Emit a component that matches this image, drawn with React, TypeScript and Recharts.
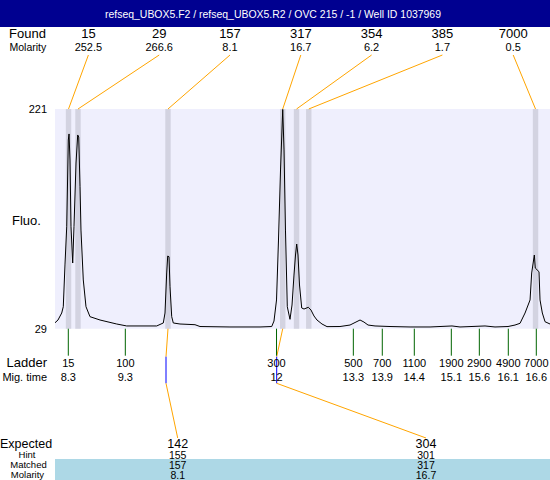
import {
  ComposedChart,
  Line,
  ReferenceArea,
  ReferenceLine,
  XAxis,
  YAxis,
} from "recharts";

// trace: migration time (min) / fluorescence
const traceTime = [
  8.057, 8.11, 8.176, 8.204, 8.234, 8.265, 8.293, 8.306, 8.323, 8.341, 8.371,
  8.394, 8.43, 8.46, 8.478, 8.501, 8.518, 8.559, 8.607, 8.678, 8.856, 9.152,
  9.329, 9.862, 9.979, 10.009, 10.039, 10.057, 10.08, 10.098, 10.128, 10.156,
  10.275, 10.541, 10.63, 11.162, 11.695, 11.903, 11.943, 11.988, 12.023,
  12.059, 12.098, 12.121, 12.147, 12.179, 12.227, 12.263, 12.298, 12.325,
  12.346, 12.369, 12.396, 12.435, 12.476, 12.552, 12.6, 12.653, 12.706, 12.795,
  12.884, 13.114, 13.292, 13.381, 13.47, 13.54, 13.612, 13.736, 14.002, 14.357,
  14.712, 15.102, 15.244, 15.688, 15.865, 16.096, 16.22, 16.309, 16.398,
  16.487, 16.516, 16.563, 16.58, 16.646, 16.664, 16.705, 16.753, 16.841,
];
const traceFluo = [
  34.2, 36.6, 42.7, 48.2, 84.7, 118.1, 193.9, 199.2, 176.4, 118.1, 86.4, 118.1,
  173.8, 198.3, 196.5, 153.1, 115.2, 71.6, 48.2, 39.5, 36.6, 33.1, 31.4, 31.4,
  34.0, 42.7, 77.7, 92.5, 91.9, 65.7, 39.5, 34.0, 33.1, 32.5, 30.9, 30.5, 30.5,
  30.9, 35.7, 54.1, 106.5, 167.7, 220.6, 185.2, 115.2, 48.2, 37.2, 49.7, 75.9,
  93.4, 103.0, 93.4, 67.2, 47.1, 46.2, 47.7, 45.3, 40.1, 36.6, 33.1, 30.8,
  30.9, 32.2, 34.4, 36.6, 34.8, 32.2, 31.4, 30.9, 30.5, 30.5, 31.4, 30.5, 31.4,
  30.5, 30.9, 32.2, 33.7, 42.7, 54.1, 77.7, 93.4, 82.0, 78.8, 54.1, 42.7, 35.1,
  33.1,
];

const foundSizes = ["15", "29", "157", "317", "354", "385", "7000"];
const foundMolarity = ["252.5", "266.6", "8.1", "16.7", "6.2", "1.7", "0.5"];
const foundTimes = [8.297, 8.465, 10.062, 12.098, 12.343, 12.56, 16.584];

const ladderSizes = ["15", "100", "300", "500", "700", "1100", "1900", "2900", "4900", "7000"];
const ladderTimes = [8.293, 9.305, 11.988, 13.351, 13.865, 14.433, 15.09, 15.587, 16.101, 16.598];
const ladderMigLabels = ["8.3", "9.3", "12", "13.3", "13.9", "14.4", "15.1", "15.6", "16.1", "16.6"];

const expectedSizes = ["142", "304"];
const hintSizes = ["155", "301"];
const matchedSizes = ["157", "317"];
const matchedMolarity = ["8.1", "16.7"];
const matchedFoundIdx = [2, 3];
const expectedTimes = [10.027, 11.991];

const W = 550;
const H = 480;
const PLOT_LEFT = 55;
const PLOT_TOP = 109;
const PLOT_BOTTOM = 328.7;
const T_MIN = 8.057;
const T_MAX = 16.841;
const F_MIN = 29;
const F_MAX = 221;
const BAND_HALF = 0.048;

const FONT = "'Liberation Sans', Arial, sans-serif";
const ORANGE = "#FFA500";

// layout pixel -> data units (for annotation anchors only)
const pxToT = (px: number) =>
  T_MIN + ((px - PLOT_LEFT) / (W - PLOT_LEFT)) * (T_MAX - T_MIN);
const pxToF = (py: number) =>
  F_MIN + ((PLOT_BOTTOM - py) / (PLOT_BOTTOM - PLOT_TOP)) * (F_MAX - F_MIN);

const FOUND_X0 = 88.4;
const FOUND_STEP = 70.8;
const EXPECTED_X = [177.7, 426];

const chartData = traceTime.map((t, i) => ({ t, fluo: traceFluo[i] }));

function LadderTick(props: any) {
  const { x, y, payload } = props;
  const i = ladderTimes.indexOf(payload.value);
  return (
    <g>
      <text x={x} y={y + 9} textAnchor="middle" fontSize={11} fontFamily={FONT} fill="#000">
        {ladderSizes[i]}
      </text>
      <text x={x} y={y + 23} textAnchor="middle" fontSize={11} fontFamily={FONT} fill="#000">
        {ladderMigLabels[i]}
      </text>
    </g>
  );
}

export default function App() {
  return (
    <div style={{ position: "absolute", left: 0, top: 0, width: W, height: H, background: "#fff" }}>
      <ComposedChart
        width={W}
        height={H}
        data={chartData}
        margin={{ top: PLOT_TOP, right: 0, left: 0, bottom: H - PLOT_BOTTOM - 40 }}
      >
        <XAxis
          dataKey="t"
          type="number"
          domain={[T_MIN, T_MAX]}
          allowDataOverflow
          ticks={ladderTimes}
          interval={0}
          height={40}
          tickSize={27}
          axisLine={false}
          stroke="#006400"
          tickLine={{ stroke: "#006400" }}
          tick={<LadderTick />}
        />
        <YAxis
          type="number"
          domain={[F_MIN, F_MAX]}
          allowDataOverflow
          ticks={[F_MIN, F_MAX]}
          width={PLOT_LEFT}
          axisLine={false}
          tickLine={false}
          tick={{ fontSize: 11, fill: "#000", fontFamily: FONT }}
        />
        <ReferenceArea
          x1={T_MIN}
          x2={T_MAX}
          y1={F_MIN}
          y2={F_MAX}
          fill="#EFEFFD"
          fillOpacity={1}
          stroke="none"
        />
        {foundTimes.map((t) => (
          <ReferenceArea
            key={`band-${t}`}
            x1={t - BAND_HALF}
            x2={t + BAND_HALF}
            y1={F_MIN}
            y2={F_MAX}
            fill="#D3D3E1"
            fillOpacity={1}
            stroke="none"
          />
        ))}
        <Line
          type="linear"
          dataKey="fluo"
          stroke="#000"
          strokeWidth={1}
          dot={false}
          activeDot={false}
          isAnimationActive={false}
        />
        {foundTimes.map((t, i) => (
          <ReferenceLine
            key={`lead-${i}`}
            ifOverflow="visible"
            stroke={ORANGE}
            strokeWidth={1}
            segment={[
              { x: pxToT(FOUND_X0 + i * FOUND_STEP), y: pxToF(55) },
              { x: t, y: F_MAX },
            ]}
          />
        ))}
        {matchedFoundIdx.map((fi, i) => (
          <ReferenceLine
            key={`exp-a-${i}`}
            ifOverflow="visible"
            stroke={ORANGE}
            segment={[
              { x: foundTimes[fi], y: F_MIN },
              { x: expectedTimes[i], y: pxToF(356.7) },
            ]}
          />
        ))}
        {expectedTimes.map((t, i) => (
          <ReferenceLine
            key={`exp-b-${i}`}
            ifOverflow="visible"
            stroke="#0000FF"
            segment={[
              { x: t, y: pxToF(356.7) },
              { x: t, y: pxToF(383.3) },
            ]}
          />
        ))}
        {expectedTimes.map((t, i) => (
          <ReferenceLine
            key={`exp-c-${i}`}
            ifOverflow="visible"
            stroke={ORANGE}
            segment={[
              { x: t, y: pxToF(383.3) },
              { x: pxToT(EXPECTED_X[i]), y: pxToF(438) },
            ]}
          />
        ))}
      </ComposedChart>

      <svg
        width={W}
        height={H}
        style={{ position: "absolute", left: 0, top: 0, pointerEvents: "none" }}
        fontFamily={FONT}
      >
        <rect x={0} y={0} width={W} height={27} fill="#000090" />
        <text
          x={273}
          y={17.5}
          textAnchor="middle"
          fontSize={11}
          fill="#fff"
          textLength={336}
          lengthAdjust="spacingAndGlyphs"
        >
          refseq_UBOX5.F2 / refseq_UBOX5.R2 / OVC 215 / -1 / Well ID 1037969
        </text>

        <text x={9} y={38} fontSize={13} fill="#000">Found</text>
        <text x={9.5} y={51} fontSize={10.5} fill="#000">Molarity</text>
        {foundSizes.map((s, i) => (
          <text key={`fs-${i}`} x={FOUND_X0 + i * FOUND_STEP} y={38} textAnchor="middle" fontSize={13} fill="#000">
            {s}
          </text>
        ))}
        {foundMolarity.map((m, i) => (
          <text key={`fm-${i}`} x={FOUND_X0 + i * FOUND_STEP} y={51} textAnchor="middle" fontSize={11} fill="#000">
            {m}
          </text>
        ))}

        <text x={12} y={225.4} fontSize={13} fill="#000">Fluo.</text>
        <text x={47} y={367.4} textAnchor="end" fontSize={13} fill="#000">Ladder</text>
        <text x={47} y={380.7} textAnchor="end" fontSize={11} fill="#000">Mig. time</text>

        <rect x={PLOT_LEFT} y={459} width={W - PLOT_LEFT} height={21} fill="#ADD8E6" />
        <text x={0} y={448} fontSize={12.5} fill="#000">Expected</text>
        <text x={27} y={458} textAnchor="middle" fontSize={9.5} fill="#000">Hint</text>
        <text x={28.5} y={467.6} textAnchor="middle" fontSize={9.5} fill="#000">Matched</text>
        <text x={27.5} y={477.5} textAnchor="middle" fontSize={9.5} fill="#000">Molarity</text>
        {expectedSizes.map((s, i) => (
          <g key={`ex-${i}`}>
            <text x={EXPECTED_X[i]} y={448} textAnchor="middle" fontSize={12.5} fill="#000">{s}</text>
            <text x={EXPECTED_X[i]} y={458.5} textAnchor="middle" fontSize={10.5} fill="#000">{hintSizes[i]}</text>
            <text x={EXPECTED_X[i]} y={468.5} textAnchor="middle" fontSize={10.5} fill="#000">{matchedSizes[i]}</text>
            <text x={EXPECTED_X[i]} y={478.5} textAnchor="middle" fontSize={10.5} fill="#000">{matchedMolarity[i]}</text>
          </g>
        ))}
      </svg>
    </div>
  );
}
